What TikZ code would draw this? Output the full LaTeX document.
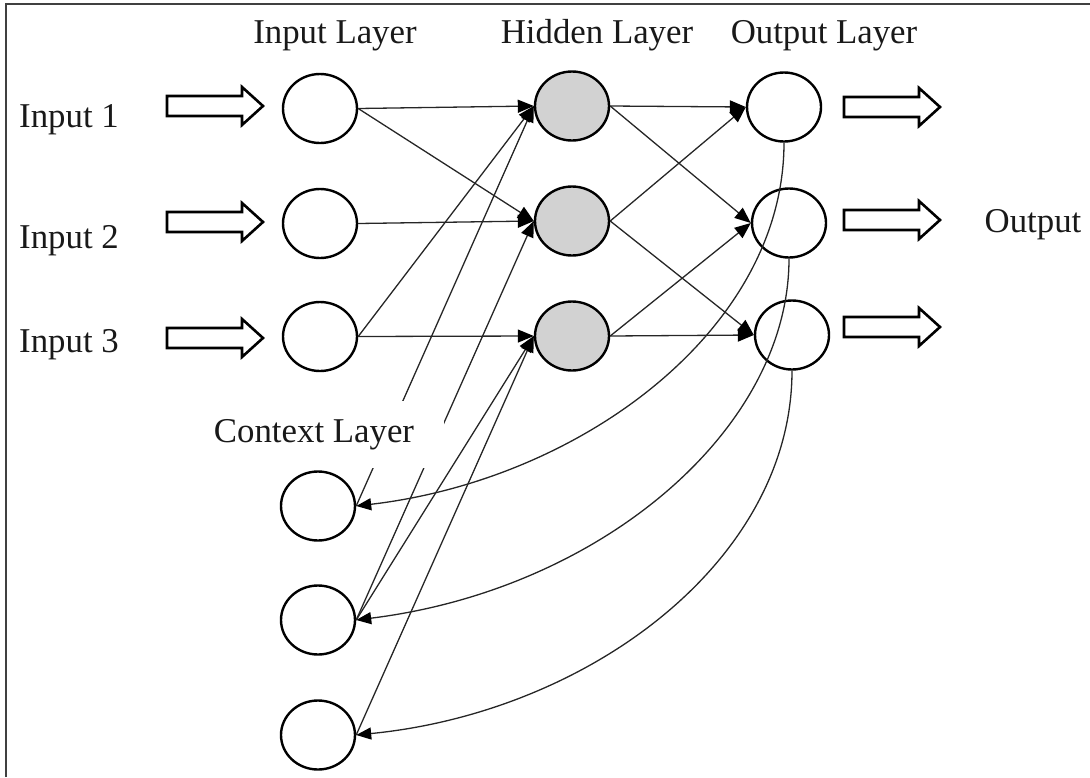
\documentclass[tikz,border=0pt]{standalone}
\usepackage{fontspec}
\setmainfont{Liberation Serif}
\usetikzlibrary{arrows.meta,shapes.geometric}
\begin{document}
\begin{tikzpicture}[x=1pt,y=-1pt,
  neuron/.style={draw=black,line width=2.4pt,ellipse,inner sep=0pt,
                 minimum width=74pt,minimum height=69pt,fill=white},
  hiddenunit/.style={neuron,fill=gray!35},
  link/.style={line width=1.3pt,draw=black!85,
               -{Triangle[length=16pt,width=13pt,color=black]}},
  feedback/.style={line width=1.3pt,draw=black!85,
               -{Triangle[length=15pt,width=12pt,color=black]}},
  lbl/.style={font=\fontsize{34.8}{40}\selectfont,text=black!90,
              inner sep=0pt,anchor=base},
  fat/.style={draw=black,line width=2.6pt,fill=white,line join=miter},
  blockarrow/.pic={\draw[fat] (0,-10) -- (75,-10) -- (75,-19) -- (96,0)
                   -- (75,19) -- (75,10) -- (0,10) -- cycle;},
]
\useasboundingbox (0,0) rectangle (1090,777);

% frame
\draw[line width=2pt,draw=black!75] (6,777) -- (6,4) -- (1090,4);

% layer titles
\node[lbl] (tin)  at (335,43) {Input Layer};
\node[lbl] (thid) at (597,43) {Hidden Layer};
\node[lbl] (tout) at (824,43) {Output Layer};

% external inputs and outputs
\node[lbl] (x1) at (69,127) {Input 1};
\node[lbl] (x2) at (69,248) {Input 2};
\node[lbl] (x3) at (69,352) {Input 3};
\node[lbl] (y)  at (1033,232) {Output};

\pic at (167,106) {blockarrow};
\pic at (167,222) {blockarrow};
\pic at (167,338) {blockarrow};
\pic at (844,107) {blockarrow};
\pic at (844,220) {blockarrow};
\pic at (844,327) {blockarrow};

% units
\node[neuron] (i1) at (320,108.5) {};
\node[neuron] (i2) at (320,223.5) {};
\node[neuron] (i3) at (320,336.5) {};
\node[hiddenunit] (h1) at (572,106) {};
\node[hiddenunit] (h2) at (572,221) {};
\node[hiddenunit] (h3) at (572,336) {};
\node[neuron] (o1) at (784,107) {};
\node[neuron] (o2) at (789,223) {};
\node[neuron] (o3) at (792,335) {};
\node[neuron] (c1) at (318,506) {};
\node[neuron] (c2) at (318,620) {};
\node[neuron] (c3) at (318,735) {};

% input -> hidden
\draw[link] (i1.east) -- (h1.west);
\draw[link] (i1.east) -- (h2.west);
\draw[link] (i2.east) -- (h2.west);
\draw[link] (i3.east) -- (h1.west);
\draw[link] (i3.east) -- (h3.west);

% context -> hidden
\draw[link] (c1.east) -- (h1.west);
\draw[link] (c2.east) -- (h2.west);
\draw[link] (c2.east) -- (h3.west);
\draw[link] (c3.east) -- (h3.west);

% hidden -> output
\draw[link] (h1.east) -- (o1.west);
\draw[link] (h1.east) -- (o2.west);
\draw[link] (h2.east) -- (o1.west);
\draw[link] (h2.east) -- (o3.west);
\draw[link] (h3.east) -- (o2.west);
\draw[link] (h3.east) -- (o3.west);

% output -> context (recurrent copies)
\draw[feedback] (o1.south) .. controls (784,330) and (580,480) .. (c1.east);
\draw[feedback] (o2.south) .. controls (789,430) and (600,590) .. (c2.east);
\draw[feedback] (o3.south) .. controls (792,560) and (590,712) .. (c3.east);

% context title on an opaque patch
\node[lbl,fill=white,inner xsep=30pt,inner ysep=18pt] (tctx) at (314,442) {Context Layer};
\end{tikzpicture}
\end{document}
